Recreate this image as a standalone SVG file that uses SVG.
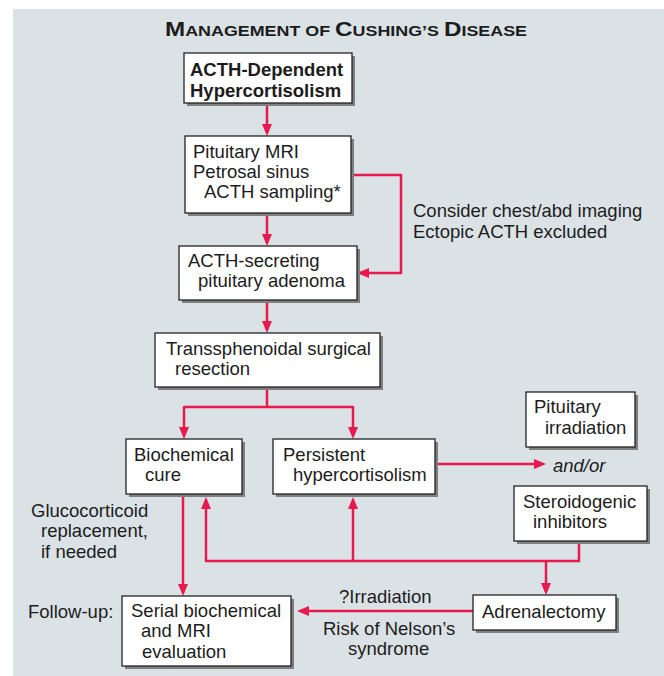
<svg xmlns="http://www.w3.org/2000/svg" width="664" height="676" viewBox="0 0 664 676">
<style>
.t{font-family:"Liberation Sans",Arial,Helvetica,sans-serif;font-size:18.5px;fill:#1c1c1c}
.b{font-weight:bold}
.sh{fill:#7f7f7f}
.bx{fill:#fff;stroke:#222;stroke-width:1.3}
.c{fill:none;stroke:#e8194f;stroke-width:2.5}
</style>
<defs>
<marker id="ah" markerUnits="userSpaceOnUse" markerWidth="12" markerHeight="10" viewBox="0 0 12 10" refX="9" refY="5" orient="auto">
<path d="M0,0 L12,5 L0,10 z" fill="#e8194f"/>
</marker>
</defs>
<rect x="13" y="9" width="651" height="667" fill="#dbe2e5"/>
<text class="t b" x="346" y="36" text-anchor="middle" textLength="362" lengthAdjust="spacingAndGlyphs"><tspan font-size="21">M</tspan><tspan font-size="15.5">ANAGEMENT OF </tspan><tspan font-size="21">C</tspan><tspan font-size="15.5">USHING’S </tspan><tspan font-size="21">D</tspan><tspan font-size="15.5">ISEASE</tspan></text>

<g id="connectors">
<path class="c" d="M267,103 V133" marker-end="url(#ah)"/>
<path class="c" d="M351,175 H401 V273 H360" marker-end="url(#ah)"/>
<path class="c" d="M267,213 V243" marker-end="url(#ah)"/>
<path class="c" d="M267,300 V330" marker-end="url(#ah)"/>
<path class="c" d="M267,387 V407"/>
<path class="c" d="M184,407 H353"/>
<path class="c" d="M184,406 V436" marker-end="url(#ah)"/>
<path class="c" d="M353,406 V436" marker-end="url(#ah)"/>
<path class="c" d="M435,464 H543" marker-end="url(#ah)"/>
<path class="c" d="M579,541 V561 H206"/>
<path class="c" d="M206,562 V500" marker-end="url(#ah)"/>
<path class="c" d="M353,562 V500" marker-end="url(#ah)"/>
<path class="c" d="M546,560 V592" marker-end="url(#ah)"/>
<path class="c" d="M183,494 V593" marker-end="url(#ah)"/>
<path class="c" d="M473,611 H300" marker-end="url(#ah)"/>
</g>

<g id="n1">
<rect class="sh" x="187" y="56" width="168" height="50"/>
<rect class="bx" x="184" y="53" width="168" height="50"/>
<text class="t b" x="190" y="76">ACTH-Dependent</text>
<text class="t b" x="190" y="97">Hypercortisolism</text>
</g>
<g id="n2">
<rect class="sh" x="188" y="139" width="166" height="77"/>
<rect class="bx" x="185" y="136" width="166" height="77"/>
<text class="t" x="193" y="158">Pituitary MRI</text>
<text class="t" x="193" y="178">Petrosal sinus</text>
<text class="t" x="204" y="198">ACTH sampling*</text>
</g>
<g id="n3">
<rect class="sh" x="182" y="249" width="178" height="54"/>
<rect class="bx" x="179" y="246" width="178" height="54"/>
<text class="t" x="188" y="267">ACTH-secreting</text>
<text class="t" x="198" y="287">pituitary adenoma</text>
</g>
<g id="n4">
<rect class="sh" x="158" y="336" width="225" height="54"/>
<rect class="bx" x="155" y="333" width="225" height="54"/>
<text class="t" x="166" y="355">Transsphenoidal surgical</text>
<text class="t" x="175" y="375">resection</text>
</g>
<g id="n5">
<rect class="sh" x="129" y="442" width="116" height="55"/>
<rect class="bx" x="126" y="439" width="116" height="55"/>
<text class="t" x="134" y="461">Biochemical</text>
<text class="t" x="145" y="481">cure</text>
</g>
<g id="n6">
<rect class="sh" x="276" y="442" width="162" height="55"/>
<rect class="bx" x="273" y="439" width="162" height="55"/>
<text class="t" x="283" y="461">Persistent</text>
<text class="t" x="293" y="481">hypercortisolism</text>
</g>
<g id="n7">
<rect class="sh" x="529" y="395" width="109" height="55"/>
<rect class="bx" x="526" y="392" width="109" height="55"/>
<text class="t" x="534" y="413">Pituitary</text>
<text class="t" x="545" y="434">irradiation</text>
</g>
<g id="n8">
<rect class="sh" x="517" y="489" width="133" height="55"/>
<rect class="bx" x="514" y="486" width="133" height="55"/>
<text class="t" x="523" y="508">Steroidogenic</text>
<text class="t" x="533" y="528">inhibitors</text>
</g>
<g id="n9">
<rect class="sh" x="125" y="599" width="169" height="70"/>
<rect class="bx" x="122" y="596" width="169" height="70"/>
<text class="t" x="131" y="617">Serial biochemical</text>
<text class="t" x="141" y="637">and MRI</text>
<text class="t" x="142" y="658">evaluation</text>
</g>
<g id="n10">
<rect class="sh" x="476" y="598" width="143" height="35"/>
<rect class="bx" x="473" y="595" width="143" height="35"/>
<text class="t" x="482" y="618">Adrenalectomy</text>
</g>

<g id="labels">
<text class="t" x="413" y="217">Consider chest/abd imaging</text>
<text class="t" x="413" y="238">Ectopic ACTH excluded</text>
<text class="t" x="553" y="472" font-style="italic">and/or</text>
<text class="t" x="31" y="517">Glucocorticoid</text>
<text class="t" x="41" y="537">replacement,</text>
<text class="t" x="41" y="558">if needed</text>
<text class="t" x="28" y="618">Follow-up:</text>
<text class="t" x="339" y="603">?Irradiation</text>
<text class="t" x="323" y="635">Risk of Nelson’s</text>
<text class="t" x="348" y="655">syndrome</text>
</g>
</svg>
